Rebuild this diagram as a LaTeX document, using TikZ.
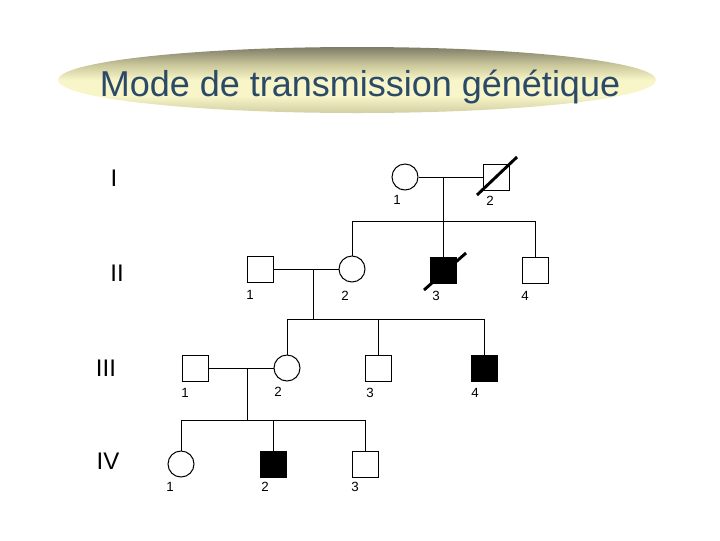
\documentclass[tikz,border=0pt]{standalone}
\usepackage{fontspec}
\setmainfont{Liberation Sans}
\definecolor{titleblue}{HTML}{2A4A68}
\definecolor{olivedark}{HTML}{7E7C66}
\definecolor{olivemid}{HTML}{C8C59A}
\definecolor{olivelight}{HTML}{F8F5C8}
\definecolor{olivebot}{HTML}{D2CFA2}
\pgfdeclareverticalshading{titleshade}{100bp}{color(0bp)=(olivebot); color(25bp)=(olivebot); color(38bp)=(olivelight); color(50bp)=(olivelight); color(62bp)=(olivemid); color(75bp)=(olivedark); color(100bp)=(olivedark)}
\begin{document}
\begin{tikzpicture}[x=0.75pt,y=-0.75pt,
  sq/.style={draw,line width=0.75pt,minimum size=19.5pt,inner sep=0pt,fill=white},
  aff/.style={fill=black},
  fem/.style={draw,circle,line width=0.75pt,minimum size=19.5pt,inner sep=0pt,fill=white},
  ln/.style={line width=0.75pt},
  dead/.style={line width=2.2pt},
  num/.style={font=\fontsize{10}{12}\selectfont},
  gen/.style={font=\fontsize{18}{20}\selectfont}]
\useasboundingbox (0,0) rectangle (720,540);
% title
\shade[shading=titleshade]
  (357,80) ellipse [x radius=299, y radius=33];
\node[text=titleblue, font=\fontsize{27}{30}\selectfont, anchor=base] (title) at (360,96) {Mode de transmission génétique};
% generation labels
\node[gen] (gI) at (114,178) {I};
\node[gen] (gII) at (117,273) {II};
\node[gen] (gIII) at (106,368) {III};
\node[gen] (gIV) at (108,461) {IV};
% generation I
\node[fem] (i1) at (405,177) {};
\node[sq] (i2) at (496,177) {};
\draw[ln] (i1.east) -- (i2.west);
\coordinate (m1) at (443,177);
\coordinate (s1) at (443,221);
\draw[ln] (m1) -- (s1);
\draw[dead] ([shift={(-19,18)}]i2.center) -- ([shift={(21,-20)}]i2.center);
\node[num] (li1) at (397,200) {1};
\node[num] (li2) at (490,201) {2};
% generation II
\node[sq] (ii1) at (260,269) {};
\node[fem] (ii2) at (352,269) {};
\node[sq,aff] (ii3) at (443,270) {};
\node[sq] (ii4) at (535,270) {};
\draw[ln] (ii2 |- s1) -- (ii4 |- s1);
\draw[ln] (ii2 |- s1) -- (ii2.north);
\draw[ln] (s1) -- (ii3.north);
\draw[ln] (ii4 |- s1) -- (ii4.north);
\draw[dead] ([shift={(-19,20)}]ii3.center) -- ([shift={(23,-17)}]ii3.center);
\draw[ln] (ii1.east) -- (ii2.west);
\coordinate (m2) at (313,269);
\coordinate (s2) at (313,319);
\draw[ln] (m2) -- (s2);
\node[num] (lii1) at (250,295) {1};
\node[num] (lii2) at (345,296) {2};
\node[num] (lii3) at (436,296) {3};
\node[num] (lii4) at (525,296) {4};
% generation III
\node[sq] (iii1) at (195,368) {};
\node[fem] (iii2) at (287,368) {};
\node[sq] (iii3) at (378,368) {};
\node[sq,aff] (iii4) at (484,368) {};
\draw[ln] (iii2 |- s2) -- (iii4 |- s2);
\draw[ln] (iii2 |- s2) -- (iii2.north);
\draw[ln] (iii3 |- s2) -- (iii3.north);
\draw[ln] (iii4 |- s2) -- (iii4.north);
\draw[ln] (iii1.east) -- (iii2.west);
\coordinate (m3) at (247,368);
\coordinate (s3) at (247,420);
\draw[ln] (m3) -- (s3);
\node[num] (liii1) at (185,393) {1};
\node[num] (liii2) at (278,392) {2};
\node[num] (liii3) at (370,393) {3};
\node[num] (liii4) at (475,393) {4};
% generation IV
\node[fem] (iv1) at (181,464) {};
\node[sq,aff] (iv2) at (273,464) {};
\node[sq] (iv3) at (365,464) {};
\draw[ln] (iv1 |- s3) -- (iv3 |- s3);
\draw[ln] (iv1 |- s3) -- (iv1.north);
\draw[ln] (iv2 |- s3) -- (iv2.north);
\draw[ln] (iv3 |- s3) -- (iv3.north);
\node[num] (liv1) at (170,487) {1};
\node[num] (liv2) at (265,487) {2};
\node[num] (liv3) at (355,487) {3};
\end{tikzpicture}
\end{document}
